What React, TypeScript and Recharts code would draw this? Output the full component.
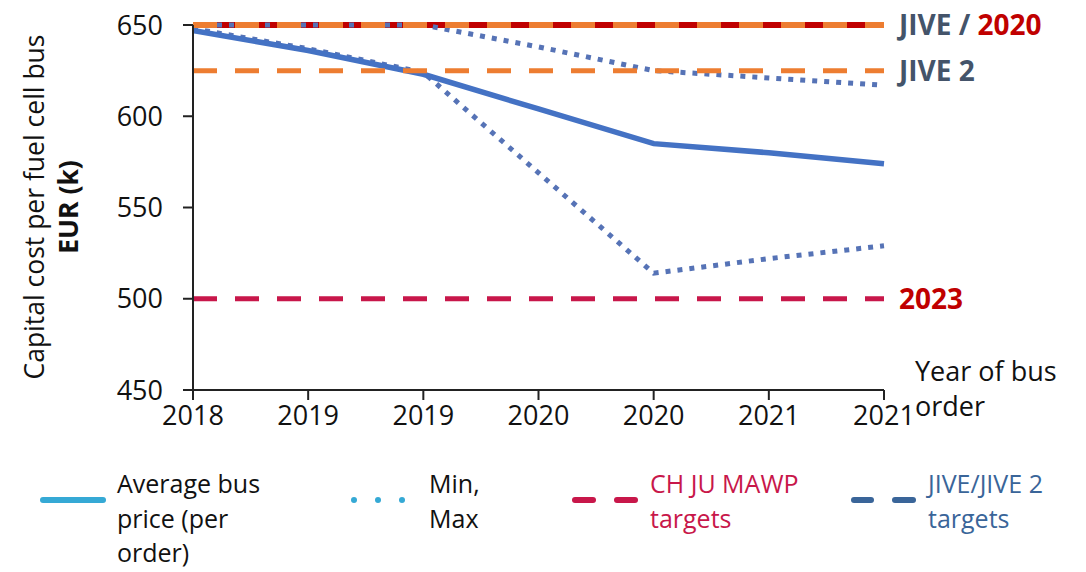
import React from 'react';
import { LineChart, Line, XAxis, YAxis, ReferenceLine } from 'recharts';

// order years (x axis categories, repeated as in the source)
const years = ['2018', '2019', '2019', '2020', '2020', '2021', '2021'];

// capital cost per bus, EUR k
const avgPrice = [647, 636, 623, 604, 585, 580, 574];
const minPrice = [648, 637, 624, 569, 514, 522, 529];
const maxPrice = [650, 650, 650, 638, 625, 621, 617];

const yTicks = [450, 500, 550, 600, 650];

// target levels
const chJuTarget2020 = 650;
const chJuTarget2023 = 500;
const jiveTargets = [650, 625];

const FONT = '"Open Sans", Lato, sans-serif';
const BLUE = '#4472C4';
const DOT_BLUE = '#5673B6';
const ORANGE = '#ED7D31';
const DARK_RED = '#C00000';
const CRIMSON = '#C8174A';
const SLATE = '#44546A';

function YTitle() {
  return (
    <g fontFamily={FONT}>
      <text x={34} y={207} transform="rotate(-90, 34, 207)" textAnchor="middle" dominantBaseline="central" fontSize={26.5} fill="#111">
        Capital cost per fuel cell bus
      </text>
      <text x={68} y={207} transform="rotate(-90, 68, 207)" textAnchor="middle" dominantBaseline="central" fontSize={26.5} fontWeight="bold" fill="#111">
        EUR (k)
      </text>
    </g>
  );
}

function XTitle() {
  return (
    <g fontFamily={FONT} fontSize={27} fill="#111">
      <text x={915} y={381}>Year of bus</text>
      <text x={915} y={416}>order</text>
    </g>
  );
}

const rightLabel = (parts: { t: string; c: string }[], dy: number) => (props: any) => {
  const vb = props.viewBox || {};
  return (
    <text x={vb.x + vb.width + 15} y={vb.y + dy} fontFamily={FONT} fontSize={28} fontWeight="bold">
      {parts.map((p, i) => (
        <tspan key={i} fill={p.c}>{p.t}</tspan>
      ))}
    </text>
  );
};

export default function App() {
  const data = years.map((year, i) => ({
    idx: i,
    year,
    avg: avgPrice[i],
    min: minPrice[i],
    max: maxPrice[i],
  }));

  return (
    <div style={{ position: 'absolute', left: 0, top: 0, width: 1086, height: 572, background: '#fff', fontFamily: FONT }}>
      <LineChart width={1086} height={460} data={data} margin={{ top: 25, right: 202, bottom: 0, left: 0 }}>
        <XAxis
          dataKey="idx"
          type="category"
          tickFormatter={(i) => years[i]}
          height={70}
          axisLine={{ stroke: '#222', strokeWidth: 2 }}
          tickLine={{ stroke: '#222', strokeWidth: 2 }}
          tickSize={10}
          tickMargin={6}
          tick={{ fill: '#111', fontSize: 27, fontFamily: FONT }}
          interval={0}
          label={{ content: () => <XTitle /> }}
        />
        <YAxis
          domain={[450, 650]}
          ticks={yTicks}
          width={193}
          axisLine={{ stroke: '#222', strokeWidth: 2 }}
          tickLine={{ stroke: '#222', strokeWidth: 2 }}
          tickSize={10}
          tickMargin={20}
          tick={{ fill: '#111', fontSize: 27, fontFamily: FONT }}
          label={{ content: () => <YTitle /> }}
        />
        <ReferenceLine y={chJuTarget2020} stroke={DARK_RED} strokeWidth={6} />
        <Line dataKey="max" stroke={DOT_BLUE} strokeWidth={5} strokeDasharray="5 7" dot={false} isAnimationActive={false} />
        <Line dataKey="min" stroke={DOT_BLUE} strokeWidth={5} strokeDasharray="5 7" dot={false} isAnimationActive={false} />
        <Line dataKey="avg" stroke={BLUE} strokeWidth={5.5} dot={false} isAnimationActive={false} />
        <ReferenceLine
          y={jiveTargets[0]}
          stroke={ORANGE}
          strokeWidth={6}
          strokeDasharray="24 18"
          label={{ content: rightLabel([{ t: 'JIVE / ', c: SLATE }, { t: '2020', c: DARK_RED }], 10) }}
        />
        <ReferenceLine
          y={jiveTargets[1]}
          stroke={ORANGE}
          strokeWidth={5}
          strokeDasharray="24 18"
          label={{ content: rightLabel([{ t: 'JIVE 2', c: SLATE }], 10) }}
        />
        <ReferenceLine
          y={chJuTarget2023}
          stroke={CRIMSON}
          strokeWidth={5}
          strokeDasharray="24 18"
          label={{ content: rightLabel([{ t: '2023', c: DARK_RED }], 10) }}
        />
      </LineChart>

      {/* legend */}
      <svg width={1086} height={112} style={{ position: 'absolute', left: 0, top: 460 }} fontFamily={FONT} fontSize={25}>
        <line x1={43} x2={103} y1={40} y2={40} stroke="#35A9D5" strokeWidth={6} strokeLinecap="round" />
        <g fill="#111">
          <text x={117} y={33}>Average bus</text>
          <text x={117} y={67.5}>price (per</text>
          <text x={117} y={102}>order)</text>
        </g>
        <g fill="#35A9D5">
          <circle cx={354} cy={40} r={3} />
          <circle cx={378} cy={40} r={3} />
          <circle cx={402} cy={40} r={3} />
        </g>
        <g fill="#111">
          <text x={429} y={33}>Min,</text>
          <text x={429} y={67.5}>Max</text>
        </g>
        <line x1={575} x2={593} y1={40} y2={40} stroke={CRIMSON} strokeWidth={6} strokeLinecap="round" />
        <line x1={617} x2={635} y1={40} y2={40} stroke={CRIMSON} strokeWidth={6} strokeLinecap="round" />
        <g fill={CRIMSON}>
          <text x={650} y={33}>CH JU MAWP</text>
          <text x={650} y={67.5}>targets</text>
        </g>
        <line x1={854} x2={871} y1={40} y2={40} stroke="#3A6599" strokeWidth={6} strokeLinecap="round" />
        <line x1={895} x2={913} y1={40} y2={40} stroke="#3A6599" strokeWidth={6} strokeLinecap="round" />
        <g fill="#3A6599">
          <text x={928} y={33}>JIVE/JIVE 2</text>
          <text x={928} y={67.5}>targets</text>
        </g>
      </svg>
    </div>
  );
}
